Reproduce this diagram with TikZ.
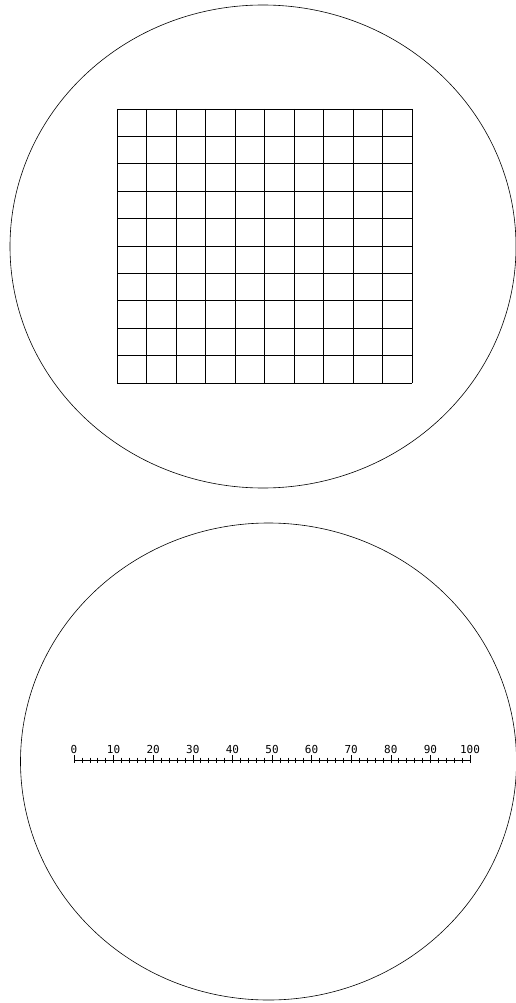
\documentclass[tikz,border=0pt]{standalone}
\usepackage{fontspec}
\newfontfamily\plotfont{DejaVu Sans Mono}
\tikzset{
  rim/.style={line width=0.6pt},
  gridline/.style={line width=0.8pt},
  scaleline/.style={line width=0.6pt},
  scalelabel/.style={font=\plotfont\fontsize{11}{12}\selectfont, inner sep=0pt}
}
\begin{document}
\begin{tikzpicture}[x=1pt,y=-1pt]
    \useasboundingbox (0,0) rectangle (516,1003);
    \clip (0,0) rectangle (516,1003);

    % Draw the upper field of view
    \draw[rim] (263,246.5) ellipse [x radius=253, y radius=241.5];

    % Draw the 10 x 10 grid inside
    \foreach \i in {0,...,10} {
        \draw[gridline] (117+29.5*\i,109) -- (117+29.5*\i,383);
        \draw[gridline] (117,109+27.4*\i) -- (412,109+27.4*\i);
    }

    % Draw the lower field of view
    \draw[rim] (268.5,761.5) ellipse [x radius=248, y radius=238.5];

    % Draw the scale: base line, ticks and labels
    \coordinate (s0) at (74,760);
    \coordinate (s100) at (470,760);
    \draw[scaleline] (s0) -- (s100);
    \foreach \j in {2,4,...,98} {
        \draw[scaleline] (74+3.96*\j,757.5) -- (74+3.96*\j,762.5);
    }
    \foreach \k in {0,10,...,100} {
        \draw[scaleline] (74+3.96*\k,755) -- (74+3.96*\k,763);
        \node[scalelabel] (lab\k) at (74+3.96*\k,749) {\k};
    }

\end{tikzpicture}
\end{document}
